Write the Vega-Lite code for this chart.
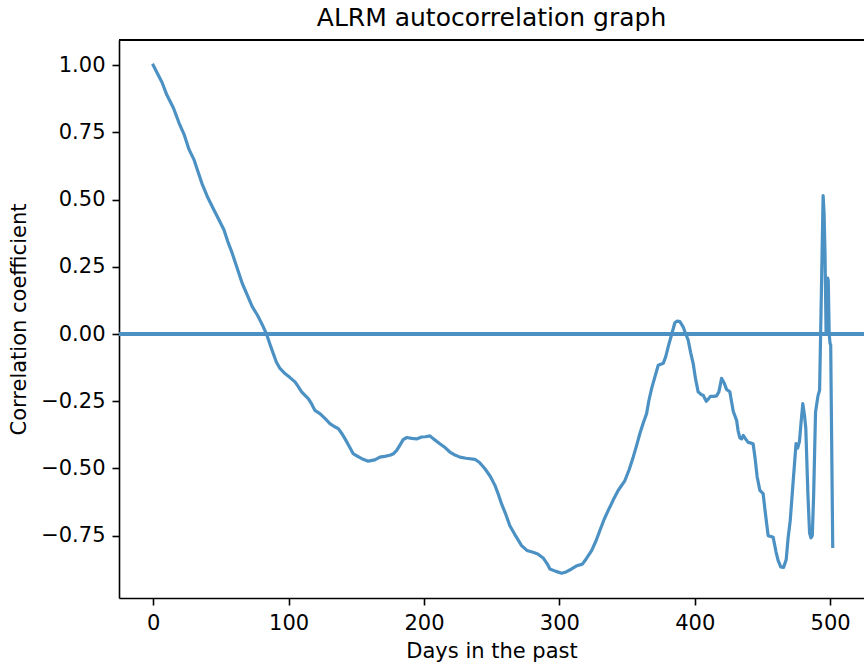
{
  "$schema": "https://vega.github.io/schema/vega-lite/v6.json",
  "autosize": "none",
  "width": 745,
  "height": 558,
  "padding": {"left": 119, "top": 40, "right": 0, "bottom": 70},
  "background": "white",
  "config": {
    "view": {"stroke": null},
    "font": "DejaVu Sans",
    "axis": {
      "grid": false,
      "domainColor": "black",
      "domainWidth": 1.6,
      "tickColor": "black",
      "tickWidth": 1.6,
      "tickSize": 7,
      "labelFont": "DejaVu Sans",
      "labelFontSize": 21,
      "labelColor": "black",
      "titleFont": "DejaVu Sans",
      "titleFontSize": 21,
      "titleFontWeight": "normal",
      "titleColor": "black",
      "labelPadding": 7
    }
  },
  "title": {
    "text": "ALRM autocorrelation graph",
    "font": "DejaVu Sans",
    "fontSize": 25,
    "fontWeight": "normal",
    "color": "black",
    "anchor": "middle",
    "offset": 8
  },
  "data": {
    "values": [
      {"lag": 0, "corr": 1.0}, {"lag": 3, "corr": 0.97}, {"lag": 6.6, "corr": 0.935}, {"lag": 10, "corr": 0.89},
      {"lag": 15, "corr": 0.84}, {"lag": 19, "corr": 0.786}, {"lag": 23, "corr": 0.74}, {"lag": 26.4, "corr": 0.687},
      {"lag": 30, "corr": 0.65}, {"lag": 32.5, "corr": 0.612}, {"lag": 36, "corr": 0.56}, {"lag": 39.9, "corr": 0.512},
      {"lag": 44, "corr": 0.47}, {"lag": 48.5, "corr": 0.425}, {"lag": 52.2, "corr": 0.388}, {"lag": 55, "corr": 0.345},
      {"lag": 58.3, "corr": 0.301}, {"lag": 62, "corr": 0.245}, {"lag": 65.7, "corr": 0.189}, {"lag": 69, "corr": 0.15},
      {"lag": 73.1, "corr": 0.102}, {"lag": 77, "corr": 0.07}, {"lag": 80.5, "corr": 0.035}, {"lag": 83.7, "corr": 0.0},
      {"lag": 86, "corr": -0.035}, {"lag": 88.6, "corr": -0.072}, {"lag": 91, "corr": -0.105}, {"lag": 93.6, "corr": -0.128},
      {"lag": 97.3, "corr": -0.147}, {"lag": 101, "corr": -0.162}, {"lag": 104.7, "corr": -0.178}, {"lag": 107, "corr": -0.195},
      {"lag": 109.6, "corr": -0.215}, {"lag": 114.5, "corr": -0.24}, {"lag": 117, "corr": -0.26}, {"lag": 119.4, "corr": -0.284},
      {"lag": 123.1, "corr": -0.296}, {"lag": 127, "corr": -0.315}, {"lag": 130.5, "corr": -0.333}, {"lag": 134, "corr": -0.345},
      {"lag": 136.7, "corr": -0.352}, {"lag": 139, "corr": -0.368}, {"lag": 141.6, "corr": -0.389}, {"lag": 145, "corr": -0.42},
      {"lag": 147.7, "corr": -0.445}, {"lag": 150, "corr": -0.452}, {"lag": 152.7, "corr": -0.46}, {"lag": 155, "corr": -0.466},
      {"lag": 158.8, "corr": -0.473}, {"lag": 163.7, "corr": -0.468}, {"lag": 167.4, "corr": -0.458}, {"lag": 171, "corr": -0.455},
      {"lag": 174.8, "corr": -0.451}, {"lag": 177.5, "corr": -0.445}, {"lag": 179.8, "corr": -0.433}, {"lag": 182, "corr": -0.415},
      {"lag": 184.6, "corr": -0.393}, {"lag": 187.1, "corr": -0.385}, {"lag": 191, "corr": -0.388}, {"lag": 194.5, "corr": -0.39},
      {"lag": 198.2, "corr": -0.383}, {"lag": 201, "corr": -0.382}, {"lag": 204.4, "corr": -0.379}, {"lag": 207, "corr": -0.39},
      {"lag": 211.7, "corr": -0.408}, {"lag": 215, "corr": -0.42}, {"lag": 219.1, "corr": -0.439}, {"lag": 222, "corr": -0.448},
      {"lag": 226.5, "corr": -0.458}, {"lag": 231, "corr": -0.462}, {"lag": 237.6, "corr": -0.466}, {"lag": 241, "corr": -0.478},
      {"lag": 245, "corr": -0.501}, {"lag": 249, "corr": -0.53}, {"lag": 252.4, "corr": -0.563}, {"lag": 255, "corr": -0.598},
      {"lag": 257.3, "corr": -0.632}, {"lag": 260.5, "corr": -0.672}, {"lag": 263.4, "corr": -0.713}, {"lag": 267, "corr": -0.745},
      {"lag": 272.1, "corr": -0.787}, {"lag": 276, "corr": -0.805}, {"lag": 280.6, "corr": -0.812}, {"lag": 284, "corr": -0.818},
      {"lag": 288, "corr": -0.833}, {"lag": 291, "corr": -0.855}, {"lag": 293, "corr": -0.874}, {"lag": 297, "corr": -0.882},
      {"lag": 301.6, "corr": -0.89}, {"lag": 305, "corr": -0.885}, {"lag": 309, "corr": -0.874}, {"lag": 313, "corr": -0.862},
      {"lag": 317, "corr": -0.856}, {"lag": 320, "corr": -0.835}, {"lag": 323.8, "corr": -0.806}, {"lag": 327, "corr": -0.77},
      {"lag": 329.9, "corr": -0.731}, {"lag": 333, "corr": -0.69}, {"lag": 336, "corr": -0.657}, {"lag": 340, "corr": -0.615},
      {"lag": 343.4, "corr": -0.582}, {"lag": 348.4, "corr": -0.545}, {"lag": 351.5, "corr": -0.505}, {"lag": 354.5, "corr": -0.458},
      {"lag": 357, "corr": -0.415}, {"lag": 359.4, "corr": -0.371}, {"lag": 362, "corr": -0.33}, {"lag": 364.4, "corr": -0.296},
      {"lag": 366, "corr": -0.25}, {"lag": 368.1, "corr": -0.203}, {"lag": 370.5, "corr": -0.16}, {"lag": 373, "corr": -0.116},
      {"lag": 376.7, "corr": -0.109}, {"lag": 378.5, "corr": -0.085}, {"lag": 380.4, "corr": -0.047}, {"lag": 383, "corr": 0.0},
      {"lag": 385.3, "corr": 0.042}, {"lag": 387, "corr": 0.048}, {"lag": 389, "corr": 0.046}, {"lag": 391.4, "corr": 0.027},
      {"lag": 393, "corr": 0.005}, {"lag": 395.1, "corr": -0.022}, {"lag": 397, "corr": -0.07}, {"lag": 398.8, "corr": -0.109},
      {"lag": 400.5, "corr": -0.165}, {"lag": 402.5, "corr": -0.215}, {"lag": 405, "corr": -0.226}, {"lag": 406.2, "corr": -0.228},
      {"lag": 408.5, "corr": -0.25}, {"lag": 410, "corr": -0.242}, {"lag": 411.5, "corr": -0.232}, {"lag": 414, "corr": -0.232},
      {"lag": 416.1, "corr": -0.23}, {"lag": 417.8, "corr": -0.215}, {"lag": 419.8, "corr": -0.165}, {"lag": 421.5, "corr": -0.18},
      {"lag": 423.5, "corr": -0.206}, {"lag": 425.9, "corr": -0.215}, {"lag": 428.4, "corr": -0.287}, {"lag": 430.9, "corr": -0.321},
      {"lag": 432, "corr": -0.36}, {"lag": 433.3, "corr": -0.386}, {"lag": 434.6, "corr": -0.39}, {"lag": 435.8, "corr": -0.377},
      {"lag": 437.5, "corr": -0.39}, {"lag": 439.4, "corr": -0.403}, {"lag": 441, "corr": -0.405}, {"lag": 443.1, "corr": -0.408},
      {"lag": 444.5, "corr": -0.46}, {"lag": 446.1, "corr": -0.532}, {"lag": 448.1, "corr": -0.582}, {"lag": 450.5, "corr": -0.594},
      {"lag": 452, "corr": -0.66}, {"lag": 454.2, "corr": -0.75}, {"lag": 457.9, "corr": -0.756}, {"lag": 460, "corr": -0.81},
      {"lag": 461.6, "corr": -0.843}, {"lag": 463.5, "corr": -0.866}, {"lag": 465.6, "corr": -0.868}, {"lag": 467.5, "corr": -0.84},
      {"lag": 469, "corr": -0.756}, {"lag": 470.5, "corr": -0.694}, {"lag": 472.5, "corr": -0.56}, {"lag": 474.8, "corr": -0.408},
      {"lag": 476, "corr": -0.424}, {"lag": 477.3, "corr": -0.4}, {"lag": 478.5, "corr": -0.33}, {"lag": 479.8, "corr": -0.259},
      {"lag": 481, "corr": -0.3}, {"lag": 482, "corr": -0.35}, {"lag": 483.6, "corr": -0.6}, {"lag": 484.8, "corr": -0.74},
      {"lag": 485.8, "corr": -0.758}, {"lag": 486.8, "corr": -0.75}, {"lag": 487.8, "corr": -0.6}, {"lag": 489.2, "corr": -0.29},
      {"lag": 491, "corr": -0.23}, {"lag": 492.2, "corr": -0.209}, {"lag": 493.5, "corr": 0.15}, {"lag": 494.8, "corr": 0.515},
      {"lag": 495.5, "corr": 0.45}, {"lag": 496.2, "corr": 0.3}, {"lag": 497.0, "corr": 0.0}, {"lag": 497.6, "corr": 0.1},
      {"lag": 498.2, "corr": 0.208}, {"lag": 498.6, "corr": 0.2}, {"lag": 499.3, "corr": 0.0}, {"lag": 499.9, "corr": -0.035},
      {"lag": 500.4, "corr": -0.04}, {"lag": 501.9, "corr": -0.79}
    ]
  },
  "layer": [
    {
      "mark": {"type": "line", "color": "#4c91c3", "strokeWidth": 3.2, "strokeJoin": "round", "strokeCap": "square", "clip": true},
      "encoding": {
        "x": {
          "field": "lag",
          "type": "quantitative",
          "scale": {"domain": [-25.3, 525], "nice": false, "zero": false},
          "axis": {"title": "Days in the past", "values": [0, 100, 200, 300, 400, 500], "format": "d", "titlePadding": 7}
        },
        "y": {
          "field": "corr",
          "type": "quantitative",
          "scale": {"domain": [-0.982, 1.094], "nice": false, "zero": false},
          "axis": {"title": "Correlation coefficient", "values": [-0.75, -0.5, -0.25, 0, 0.25, 0.5, 0.75, 1.0], "format": ".2f", "titlePadding": 11}
        }
      }
    },
    {
      "mark": {"type": "rule", "color": "#4c91c3", "strokeWidth": 3.2},
      "encoding": {"y": {"datum": 0}}
    },
    {
      "mark": {"type": "rule", "color": "black", "strokeWidth": 1.6},
      "encoding": {"y": {"datum": 1.094}}
    }
  ]
}
